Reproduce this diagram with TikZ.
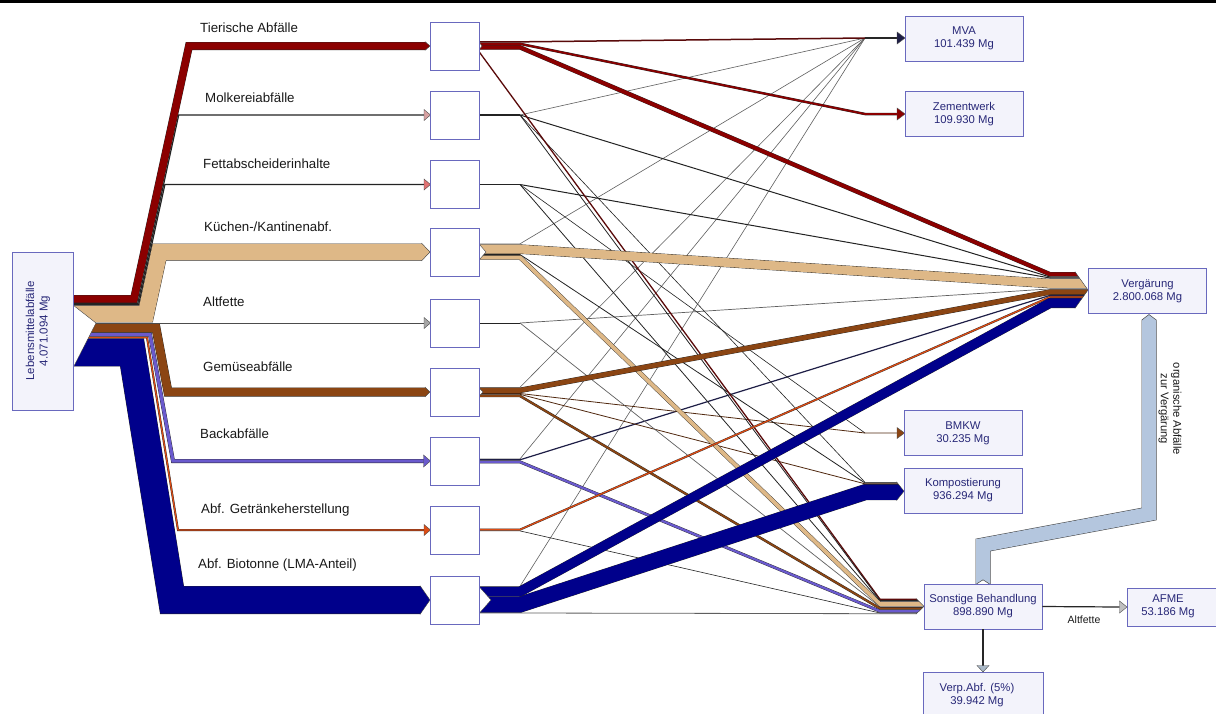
\documentclass[tikz,border=0pt]{standalone}
\usepackage{fontspec}
\setmainfont{Liberation Sans}
\definecolor{cRed}{RGB}{139,0,0}
\definecolor{cRedDk}{RGB}{90,10,10}
\definecolor{cTan}{RGB}{222,184,135}
\definecolor{cBrown}{RGB}{139,69,19}
\definecolor{cBrownDk}{RGB}{80,40,15}
\definecolor{cPurple}{RGB}{106,90,205}
\definecolor{cOrange}{RGB}{221,76,20}
\definecolor{cBlue}{RGB}{0,0,139}
\definecolor{cNavyDk}{RGB}{30,30,70}
\definecolor{cPipe}{RGB}{180,198,222}
\definecolor{cBorder}{RGB}{105,105,190}
\definecolor{cBoxFill}{RGB}{243,243,251}
\definecolor{cText}{RGB}{40,40,120}
\definecolor{cLine}{RGB}{35,35,35}
\definecolor{cGrayLine}{RGB}{95,95,95}
\newcommand\sankeytip[4]{%
  \fill[white] ({#1-#4},{#2-#3}) -- ({#1-#4},{#2-#3-1.6}) -- ({#1+1.2},{#2-#3-1.6}) -- ({#1+1.2},{#2}) -- (#1,#2) -- cycle;
  \fill[white] ({#1-#4},{#2+#3}) -- ({#1-#4},{#2+#3+1.6}) -- ({#1+1.2},{#2+#3+1.6}) -- ({#1+1.2},{#2}) -- (#1,#2) -- cycle;
  \draw[black!85, line width=0.35pt, line join=miter] ({#1-#4},{#2-#3}) -- (#1,#2) -- ({#1-#4},{#2+#3});
}
\newcommand\sankeynotch[3]{%
  \fill[white] (478.6,{#2-#3}) -- (#1,#2) -- (478.6,{#2+#3}) -- cycle;
  \draw[black!80, line width=0.35pt] (478.6,{#2-#3}) -- (#1,#2) -- (478.6,{#2+#3});
}
\tikzset{
  band/.style={draw=black!85, line width=0.35pt, line join=miter, double distance=#1},
  thinflow/.style={draw=cLine, line width=#1, line join=miter},
  grayflow/.style={draw=cGrayLine, line width=#1, line join=miter},
  midbox/.style={draw=cBorder, fill=white, line width=0.8pt, minimum width=49pt, minimum height=48pt, inner sep=0pt},
  tbox/.style={draw=cBorder, fill=cBoxFill, line width=0.8pt, minimum width=118pt, minimum height=45pt, align=center, text=cText, font=\fontsize{11.3}{13}\selectfont, inner sep=0pt},
  lbl/.style={anchor=west, inner sep=0pt, font=\fontsize{13.3}{15}\selectfont, text=black!90},
  head/.style={draw=black!70, line width=0.4pt, line join=miter}
}
\begin{document}
\begin{tikzpicture}[x=1pt,y=-1pt]
\useasboundingbox (0,0) rectangle (1216,713);
\fill[white] (0,0) rectangle (1216,713);
\fill[black] (0,0) rectangle (1216,2.6);

% ---------- outflows: thin lines ----------
\draw[grayflow=0.6pt] (520,115) -- (865,38);
\draw[grayflow=0.6pt] (478,243.8) -- (520,243.8) -- (865,38);
\draw[grayflow=0.6pt] (478,387.3) -- (520,387.3) -- (865,38);
\draw[grayflow=0.6pt] (478,458.9) -- (520,458.9) -- (865,38);
\draw[grayflow=0.6pt] (478,586.3) -- (520,586.3) -- (865,38);
\draw[draw=cRedDk, line width=1.5pt] (478,41.85) -- (520,41.85) -- (865,38);
\draw[black!85, line width=2pt] (865,38) -- (898,38);
\draw[thinflow=1.2pt] (478,115) -- (520,115);
\draw[thinflow=1.2pt] (478,184.5) -- (520,184.5);
\draw[thinflow=1pt] (478,323) -- (520,323);
\draw[thinflow=1pt] (520,115) -- (1050,277) -- (1089,277);
\draw[thinflow=1pt] (520,184.5) -- (1050,278) -- (1089,278);
\draw[grayflow=0.7pt] (520,323) -- (1050,288.9) -- (1089,288.9);
\draw[draw=cNavyDk, line width=1.2pt] (478,459.8) -- (520,459.8) -- (1050,295.4) -- (1089,295.4);
\draw[thinflow=0.6pt] (520,184.5) -- (865,433);
\draw[draw=cBrownDk, line width=0.8pt] (478,393.5) -- (520,393.5) -- (865,433) -- (898,433);
\draw[thinflow=0.6pt] (520,115) -- (865,482.3) -- (905,482.3);
\draw[thinflow=0.8pt] (478,254.5) -- (520,254.5) -- (865,483) -- (905,483);
\draw[draw=cBrownDk, line width=0.8pt] (478,394.3) -- (520,394.3) -- (865,483.8) -- (905,483.8);
\draw[draw=cRedDk, line width=1.3pt] (478,50.25) -- (880,599.25) -- (925,599.25);
\draw[thinflow=0.8pt] (520,115) -- (880,600.4) -- (925,600.4);
\draw[thinflow=0.8pt] (520,184.5) -- (880,601.2) -- (925,601.2);
\draw[grayflow=0.7pt] (520,323) -- (880,606.9) -- (925,606.9);
\draw[thinflow=0.6pt] (478,530.9) -- (520,530.9) -- (880,613) -- (925,613);
\draw[grayflow=0.8pt] (478,613) -- (520,613) -- (880,613.7) -- (925,613.7);

% ---------- outflows: bands ----------
\draw[band=3.8pt, double=cTan] (478,257.4) -- (520,257.4) -- (880,604.1) -- (925,604.1);
\draw[band=8.8pt, double=cTan] (478,249.1) -- (520,249.1) -- (1050,283.5) -- (1089,283.5);
\draw[band=1.8pt, double=cRed] (478,43.85) -- (520,43.85) -- (865,114) -- (898,114);
\draw[band=3.8pt, double=cRed] (478,47.35) -- (520,47.35) -- (1050,274.25) -- (1089,274.25);
\draw[band=4.8pt, double=cBrown] (478,390.35) -- (520,390.35) -- (1050,292.05) -- (1089,292.05);
\draw[band=1.8pt, double=cBrown] (478,395.95) -- (520,395.95) -- (880,608.45) -- (925,608.45);
\draw[band=2.3pt, double=cPurple] (478,461.9) -- (520,461.9) -- (880,611.2) -- (925,611.2);
\draw[band=1.3pt, double=cOrange] (478,529.6) -- (520,529.6) -- (1050,297) -- (1089,297);
\draw[band=15.3pt, double=cBlue] (478,604.6) -- (520,604.6) -- (865,492.2) -- (905,492.2);
\draw[band=9.3pt, double=cBlue] (478,591.6) -- (520,591.6) -- (1050,303) -- (1089,303);

% tips at targets
\sankeytip{1088}{290}{18.3}{13}
\sankeytip{904}{491.2}{9.4}{7.5}
\sankeytip{924}{606.3}{7.9}{8}
\draw[head, fill=cNavyDk] (897,32) -- (905,38) -- (897,44) -- cycle;
\draw[head, fill=cRed] (897,108) -- (905,114) -- (897,120) -- cycle;
\draw[head, fill=cBrown] (897,427.5) -- (904.5,433) -- (897,438.5) -- cycle;

% notches at middle boxes
\sankeynotch{482}{46}{4.5}
\sankeynotch{486}{252}{8.5}
\sankeynotch{483}{392}{4.5}
\sankeynotch{491}{600}{14}

% ---------- inflows to middle boxes ----------
\draw[band=27.3pt, double=cBlue] (73,352.4) -- (132,352.4) -- (172,600) -- (431,600);
\draw[band=1.3pt, double=cOrange] (73,337.4) -- (147,337.4) -- (178,530) -- (425,530);
\draw[band=3.3pt, double=cPurple] (73,334.4) -- (150,334.4) -- (173,461) -- (425,461);
\draw[band=8.3pt, double=cBrown] (73,328) -- (156,328) -- (168,392) -- (431,392);
\draw[band=7.3pt, double=cRed] (73,299) -- (134,299) -- (189,46) -- (431,46);
\draw[thinflow=1.2pt] (73,303.6) -- (137.7,303.6) -- (178.7,115) -- (425,115);
\draw[thinflow=1.2pt] (73,304.8) -- (138.6,304.8) -- (164.9,184.5) -- (425,184.5);
\draw[band=16.3pt, double=cTan] (73,313.9) -- (145.9,313.9) -- (159.4,252) -- (431,252);
\draw[draw=black!70, line width=1pt] (96,323) -- (425,323);
\fill[white] (73.6,305.5) -- (96,323) -- (73.6,366.8) -- cycle;
\draw[black!80, line width=0.35pt] (73.6,305.5) -- (96,323) -- (73.6,366.8);
\sankeytip{430}{46}{4.4}{5}
\sankeytip{430}{252}{8.9}{8.5}
\sankeytip{430}{392}{4.9}{5}
\sankeytip{430}{600}{14.4}{10}
\draw[head, fill=cPurple] (423.5,455) -- (430.5,461) -- (423.5,467) -- cycle;
\draw[head, fill=cOrange] (424,524.5) -- (430.5,530) -- (424,535.5) -- cycle;
\draw[head, fill={rgb,255:red,215;green,160;blue,160}] (424,109.5) -- (430.5,115) -- (424,120.5) -- cycle;
\draw[head, fill={rgb,255:red,225;green,115;blue,115}] (424,179) -- (430.5,184.5) -- (424,190) -- cycle;
\draw[head, fill=black!35] (424,317.5) -- (430.5,323) -- (424,328.5) -- cycle;

% ---------- pipe organic waste ----------
\draw[draw=black!75, line width=0.5pt, double=cPipe, double distance=14pt, line join=miter] (983,585) -- (983,545) -- (1149,514) -- (1149,320.5);
\fill[cPipe] (1142,321.5) -- (1142,320) -- (1149,314.5) -- (1156,320) -- (1156,321.5) -- cycle;
\draw[black!75, line width=0.5pt] (1141.75,320.5) -- (1141.75,320) -- (1149,314.5) -- (1156.25,320) -- (1156.25,320.5);
\fill[white] (975.5,584.6) -- (983,579.8) -- (990.5,584.6) -- cycle;
\draw[black!75, line width=0.5pt] (975.5,584.6) -- (983,579.8) -- (990.5,584.6);
\node[rotate=-90, align=center, font=\fontsize{11.2}{12.5}\selectfont, text=black!90] (pipel) at (1170,409) {organische Abfälle\\zur Vergärung};

% ---------- nodes ----------
\node[draw=cBorder, fill=cBoxFill, line width=0.8pt, minimum width=61pt, minimum height=158pt, inner sep=0pt] (src) at (42.5,331) {};
\node[rotate=90, align=center, text=cText, font=\fontsize{11.5}{13.5}\selectfont] (srct) at (38,331) {Lebensmittelabfälle\\4.071.094 Mg};

\foreach \i/\yy in {1/46,2/115,3/184.5,4/252,5/323,6/392,7/461,8/530,9/600}
  \node[midbox] (m\i) at (454.5,\yy) {};

\node[lbl] (l1) at (200,28) {Tierische Abfälle};
\node[lbl] (l2) at (205,98) {Molkereiabfälle};
\node[lbl] (l3) at (203,164) {Fettabscheiderinhalte};
\node[lbl] (l4) at (204,227) {Küchen-/Kantinenabf.};
\node[lbl] (l5) at (203,302) {Altfette};
\node[lbl] (l6) at (203,367) {Gemüseabfälle};
\node[lbl] (l7) at (200,434) {Backabfälle};
\node[lbl] (l8) at (201,510) {Abf. Getränkeherstellung};
\node[lbl] (l9) at (198,565) {Abf. Biotonne (LMA-Anteil)};

\node[tbox] (mva) at (964,38.5) {MVA\\101.439 Mg};
\node[tbox] (zem) at (964,114) {Zementwerk\\109.930 Mg};
\node[tbox] (verg) at (1147.5,291) {Vergärung\\2.800.068 Mg};
\node[tbox] (bmkw) at (963,433) {BMKW\\30.235 Mg};
\node[tbox] (komp) at (963,490.5) {Kompostierung\\936.294 Mg};
\node[tbox] (son) at (983,606.5) {Sonstige Behandlung\\898.890 Mg};
\node[draw=cBorder, fill=cBoxFill, line width=0.8pt, minimum width=118pt, minimum height=38pt, inner sep=0pt] (afme) at (1186,607) {};
\node[align=center, text=cText, font=\fontsize{11.3}{13}\selectfont, inner sep=0pt] (afmet) at (1168,606) {AFME\\53.186 Mg};
\node[draw=cBorder, fill=cBoxFill, line width=0.8pt, minimum width=120pt, minimum height=52pt, inner sep=0pt] (verp) at (983,698) {};
\node[align=center, text=cText, font=\fontsize{11.3}{13}\selectfont, inner sep=0pt] (verpt) at (977,695.5) {Verp.Abf. (5\%)\\39.942 Mg};

% ---------- Sonstige outflows ----------
\draw[black!85, line width=1.2pt] (son.east) -- (1119.5,607);
\draw[head, fill=black!25] (1119.5,601) -- (1127,607) -- (1119.5,613) -- cycle;
\node[font=\fontsize{10.5}{12}\selectfont, text=black!90] (altl) at (1084,619.5) {Altfette};
\draw[black!85, line width=1.2pt] (son.south) -- (983,665.5);
\draw[head, fill={rgb,255:red,170;green,185;blue,200}] (977,665.5) -- (983,672) -- (989,665.5) -- cycle;
\end{tikzpicture}
\end{document}
